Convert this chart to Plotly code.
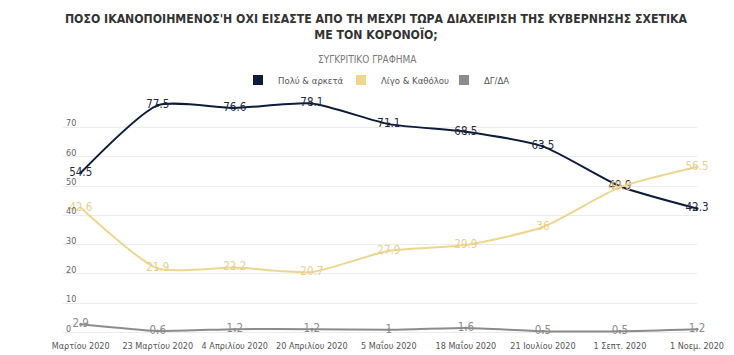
import plotly.graph_objects as go

categories = ["Μαρτίου 2020", "23 Μαρτίου 2020", "4 Απριλίου 2020", "20 Απριλίου 2020",
              "5 Μαΐου 2020", "18 Μαΐου 2020", "21 Ιουλίου 2020", "1 Σεπτ. 2020", "1 Νοεμ. 2020"]
polu_arketa = [54.5, 77.5, 76.6, 78.1, 71.1, 68.5, 63.5, 49.9, 42.3]
ligo_katholou = [42.6, 21.9, 22.2, 20.7, 27.9, 29.9, 36, 49.6, 56.5]
dg_da = [2.9, 0.6, 1.2, 1.2, 1, 1.6, 0.5, 0.5, 1.2]
y_ticks = [0, 10, 20, 30, 40, 50, 60, 70]

series_names = ["Πολύ & αρκετά", "Λίγο & Καθόλου", "ΔΓ/ΔΑ"]
colors = ["#0d1c3b", "#efd68f", "#8c8c8c"]
label_colors = ["#1f2a40", "#e8cf8c", "#8c8c8c"]

FONT = "DejaVu Sans Condensed, Roboto, sans-serif"

fig = go.Figure()
xs = list(range(len(categories)))
for name, vals, col, lcol in zip(series_names, [polu_arketa, ligo_katholou, dg_da], colors, label_colors):
    fig.add_trace(go.Scatter(
        x=xs, y=vals, mode="lines+markers+text", name=name,
        line=dict(color=col, width=2, shape="spline", smoothing=0.6),
        marker=dict(color=col, size=3),
        text=[f"{v:g}" for v in vals], textposition="middle center",
        textfont=dict(family=FONT, size=11.5, color=lcol),
        cliponaxis=False, showlegend=False, hoverinfo="skip"))
# legend entries
for name, col in zip(series_names, colors):
    fig.add_trace(go.Scatter(
        x=[None], y=[None], mode="markers", name=name,
        marker=dict(color=col, size=10, symbol="square"), showlegend=True))

W, H = 726, 347
L, R, T, B = 55, 37, 90, 20
PLOT_H = H - T - B
PLOT_W = W - L - R

fig.update_layout(
    width=W, height=H,
    margin=dict(l=L, r=R, t=T, b=B, autoexpand=False),
    paper_bgcolor="white", plot_bgcolor="white",
    font=dict(family=FONT, color="#555"),
    title=dict(
        text="<b>ΠΟΣΟ ΙΚΑΝΟΠΟΙΗΜΕΝΟΣ'Η ΟΧΙ ΕΙΣΑΣΤΕ ΑΠΟ ΤΗ ΜΕΧΡΙ ΤΩΡΑ ΔΙΑΧΕΙΡΙΣΗ ΤΗΣ ΚΥΒΕΡΝΗΣΗΣ ΣΧΕΤΙΚΑ<br>ΜΕ ΤΟΝ ΚΟΡΟΝΟΪΟ;</b>",
        x=(376 - 8) / W, xref="container", xanchor="center", yref="container", y=1 - 15 / H, yanchor="top",
        font=dict(family=FONT, size=12.2, color="#333")),
    legend=dict(orientation="h", x=(230 - L) / PLOT_W, xanchor="left", y=1 + 18 / PLOT_H, yanchor="middle",
                font=dict(family=FONT, size=9.5, color="#555"),
                entrywidth=58, entrywidthmode="pixels",
                itemwidth=30, tracegroupgap=0, bgcolor="rgba(0,0,0,0)"),
    xaxis=dict(range=[-0.23, 8.0], tickmode="array", tickvals=xs, ticktext=categories,
               showgrid=False, zeroline=False, showline=False, tickangle=0, automargin=False,
               ticklabelstandoff=4,
               tickfont=dict(family=FONT, size=9, color="#555"), ticks=""),
    yaxis=dict(range=[-0.8, 80], tickvals=y_ticks, automargin=False,
               showgrid=True, gridcolor="#ececec", gridwidth=1, zeroline=False,
               ticklabelposition="inside top", ticklabelshift=2,
               tickfont=dict(family=FONT, size=9, color="#666"), ticks=""),
    annotations=[dict(text="ΣΥΓΚΡΙΤΙΚΟ ΓΡΑΦΗΜΑ", xref="paper", yref="paper",
                      x=(367 - 8 - L) / PLOT_W, y=1 + 38 / PLOT_H, xanchor="center", yanchor="middle",
                      showarrow=False, font=dict(family=FONT, size=10, color="#777"))],
)

fig.write_html("out.html")
